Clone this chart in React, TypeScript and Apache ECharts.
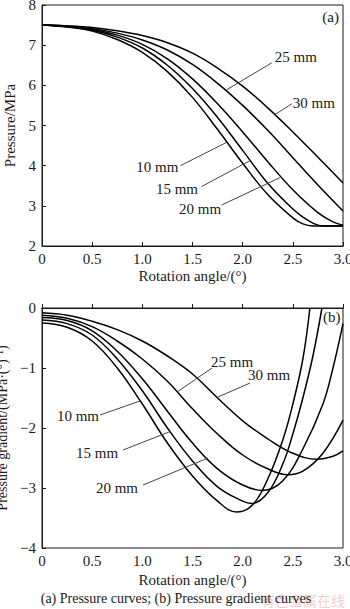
import React, { useEffect, useRef } from "react";
import * as echarts from "echarts";

const THICKNESS = ["10 mm", "15 mm", "20 mm", "25 mm", "30 mm"];

// (a) Pressure (MPa) vs rotation angle (°)
const pressure10 = [[0, 7.5], [0.25, 7.45], [0.5, 7.35], [0.75, 7.14], [1, 6.82], [1.25, 6.34], [1.5, 5.7], [1.75, 4.9], [2, 4.06], [2.25, 3.28], [2.5, 2.7], [2.6, 2.55], [2.7, 2.5], [2.8, 2.5], [3, 2.5]];
const pressure15 = [[0, 7.5], [0.25, 7.46], [0.5, 7.37], [0.75, 7.2], [1, 6.93], [1.25, 6.5], [1.5, 5.92], [1.75, 5.2], [2, 4.38], [2.25, 3.56], [2.5, 2.92], [2.6, 2.72], [2.7, 2.57], [2.8, 2.5], [3, 2.5]];
const pressure20 = [[0, 7.5], [0.25, 7.47], [0.5, 7.39], [0.75, 7.25], [1, 7.02], [1.25, 6.66], [1.5, 6.16], [1.75, 5.54], [2, 4.84], [2.25, 4.1], [2.5, 3.4], [2.75, 2.83], [2.9, 2.6], [3, 2.52]];
const pressure25 = [[0, 7.5], [0.25, 7.47], [0.5, 7.41], [0.75, 7.3], [1, 7.13], [1.25, 6.88], [1.5, 6.52], [1.75, 6.05], [2, 5.5], [2.25, 4.88], [2.5, 4.2], [2.75, 3.52], [3, 2.87]];
const pressure30 = [[0, 7.5], [0.25, 7.48], [0.5, 7.44], [0.75, 7.36], [1, 7.24], [1.25, 7.06], [1.5, 6.8], [1.75, 6.43], [2, 5.98], [2.25, 5.44], [2.5, 4.84], [2.75, 4.21], [3, 3.57]];

// (b) Pressure gradient (MPa/°) vs rotation angle (°)
const grad10 = [[0, -0.25], [0.25, -0.32], [0.5, -0.55], [0.75, -1.0], [1, -1.6], [1.25, -2.25], [1.5, -2.8], [1.75, -3.22], [1.94, -3.4], [2.1, -3.28], [2.25, -2.85], [2.4, -2.2], [2.5, -1.6], [2.6, -0.85], [2.67, 0]];
const grad15 = [[0, -0.2], [0.25, -0.26], [0.5, -0.45], [0.75, -0.85], [1, -1.38], [1.25, -2.0], [1.5, -2.55], [1.75, -2.98], [2, -3.22], [2.09, -3.26], [2.25, -3.08], [2.4, -2.6], [2.5, -2.1], [2.6, -1.5], [2.7, -0.8], [2.79, 0]];
const grad20 = [[0, -0.16], [0.25, -0.21], [0.5, -0.38], [0.75, -0.72], [1, -1.18], [1.25, -1.72], [1.5, -2.25], [1.75, -2.68], [2, -2.95], [2.2, -3.04], [2.4, -2.88], [2.6, -2.35], [2.8, -1.6], [2.9, -1.0], [3, -0.26]];
const grad25 = [[0, -0.12], [0.25, -0.17], [0.5, -0.31], [0.75, -0.55], [1, -0.85], [1.25, -1.22], [1.5, -1.68], [1.75, -2.1], [2, -2.45], [2.25, -2.68], [2.45, -2.78], [2.6, -2.72], [2.8, -2.42], [3, -1.87]];
const grad30 = [[0, -0.08], [0.25, -0.12], [0.5, -0.22], [0.75, -0.36], [1, -0.55], [1.25, -0.8], [1.5, -1.1], [1.75, -1.5], [2, -1.88], [2.25, -2.18], [2.5, -2.42], [2.74, -2.52], [2.9, -2.47], [3, -2.38]];

const PRESSURE = [pressure10, pressure15, pressure20, pressure25, pressure30];
const GRADIENT = [grad10, grad15, grad20, grad25, grad30];

// curve annotations, data coordinates: text anchor, leader start, leader end
const LABELS_A = [
  { name: "25 mm", at: [2.32, 6.71], align: "left", from: [2.29, 6.56], to: [1.84, 5.89] },
  { name: "30 mm", at: [2.5, 5.56], align: "left", from: [2.49, 5.54], to: [2.32, 5.27] },
  { name: "10 mm", at: [1.36, 3.97], align: "right", from: [1.38, 4.0], to: [1.84, 4.58] },
  { name: "15 mm", at: [1.555, 3.42], align: "right", from: [1.59, 3.48], to: [2.07, 4.12] },
  { name: "20 mm", at: [1.785, 2.93], align: "right", from: [1.79, 3.02], to: [2.37, 3.7] },
];
const LABELS_B = [
  { name: "25 mm", at: [1.685, -0.9], align: "left", from: [1.695, -1.0], to: [1.346, -1.4] },
  { name: "30 mm", at: [2.054, -1.117], align: "left", from: [2.074, -1.25], to: [1.745, -1.49] },
  { name: "10 mm", at: [0.568, -1.8], align: "right", from: [0.578, -1.783], to: [0.977, -1.55] },
  { name: "15 mm", at: [0.758, -2.417], align: "right", from: [0.808, -2.367], to: [1.276, -2.06] },
  { name: "20 mm", at: [0.957, -3.0], align: "right", from: [1.007, -2.95], to: [1.655, -2.5] },
];

const SERIF = "'Liberation Serif', 'Times New Roman', serif";
const INK = "#1a1a1a";

function xAxisFor(gridIndex: number, nameGap: number) {
  return {
    type: "value",
    gridIndex,
    min: 0,
    max: 3,
    interval: 0.5,
    axisLine: { show: true, lineStyle: { color: INK, width: 1 } },
    axisTick: { show: true, inside: true, length: 4, lineStyle: { color: INK } },
    splitLine: { show: false },
    axisLabel: {
      color: INK,
      fontFamily: SERIF,
      fontSize: 15,
      margin: 5,
      formatter: (v: number) => (v === 0 ? "0" : v.toFixed(1)),
    },
    name: "Rotation angle/(°)",
    nameLocation: "middle",
    nameGap,
    nameTextStyle: { color: INK, fontFamily: SERIF, fontSize: 15 },
  };
}

export default function App() {
  const ref = useRef<HTMLDivElement>(null);
  useEffect(() => {
    document.body.style.margin = "0";
    if (!ref.current) return;
    const chart = echarts.init(ref.current, undefined, { renderer: "svg" });
    const series: any[] = [];
    PRESSURE.forEach((d, i) =>
      series.push({
        type: "line",
        name: "p " + THICKNESS[i],
        xAxisIndex: 0,
        yAxisIndex: 0,
        data: d,
        smooth: 0.4,
        showSymbol: false,
        lineStyle: { color: "#000", width: 1.5 },
      })
    );
    GRADIENT.forEach((d, i) =>
      series.push({
        type: "line",
        name: "g " + THICKNESS[i],
        xAxisIndex: 1,
        yAxisIndex: 1,
        data: d,
        smooth: 0.4,
        showSymbol: false,
        lineStyle: { color: "#000", width: 1.5 },
      })
    );
    const gridBase = {
      left: 42,
      width: 301,
      show: true,
      borderColor: INK,
      borderWidth: 1,
      backgroundColor: "transparent",
      containLabel: false,
      outerBoundsMode: "none",
    };
    chart.setOption({
      animation: false,
      backgroundColor: "#fff",
      grid: [
        { ...gridBase, top: 5, height: 241 },
        { ...gridBase, top: 308, height: 240 },
      ],
      xAxis: [xAxisFor(0, 22), xAxisFor(1, 24)],
      yAxis: [
        {
          type: "value",
          gridIndex: 0,
          min: 2,
          max: 8,
          interval: 1,
          axisLine: { show: true, lineStyle: { color: INK, width: 1 } },
          axisTick: { show: true, inside: true, length: 4, lineStyle: { color: INK } },
          splitLine: { show: false },
          axisLabel: { color: INK, fontFamily: SERIF, fontSize: 15, margin: 6 },
          name: "Pressure/MPa",
          nameLocation: "middle",
          nameGap: 24,
          nameTextStyle: { color: INK, fontFamily: SERIF, fontSize: 15 },
        },
        {
          type: "value",
          gridIndex: 1,
          min: -4,
          max: 0,
          interval: 1,
          axisLine: { show: true, lineStyle: { color: INK, width: 1 } },
          axisTick: { show: true, inside: true, length: 4, lineStyle: { color: INK } },
          splitLine: { show: false },
          axisLabel: {
            color: INK,
            fontFamily: SERIF,
            fontSize: 15,
            margin: 6,
            formatter: (v: number) => (v < 0 ? "\u2212" + Math.abs(v) : String(v)),
          },
          name: "Pressure gradient/(MPa·(°)\u207B\u00B9)",
          nameLocation: "middle",
          nameGap: 23,
          nameTextStyle: { color: INK, fontFamily: SERIF, fontSize: 14 },
        },
      ],
      series,
    });

    const graphics: any[] = [];
    const addLabels = (labels: any[], gridIndex: number) => {
      labels.forEach((l) => {
        const t = chart.convertToPixel({ gridIndex } as any, l.at) as number[];
        const a = chart.convertToPixel({ gridIndex } as any, l.from) as number[];
        const b = chart.convertToPixel({ gridIndex } as any, l.to) as number[];
        graphics.push({
          type: "line",
          shape: { x1: a[0], y1: a[1], x2: b[0], y2: b[1] },
          style: { stroke: "#444", lineWidth: 1 },
          z: 50,
        });
        graphics.push({
          type: "text",
          x: t[0],
          y: t[1],
          style: {
            text: l.name,
            fill: INK,
            font: `15px ${SERIF}`,
            textAlign: l.align,
            textVerticalAlign: "middle",
          },
          z: 50,
        });
      });
    };
    addLabels(LABELS_A, 0);
    addLabels(LABELS_B, 1);
    const pa = chart.convertToPixel({ gridIndex: 0 } as any, [2.96, 7.7]) as number[];
    const pb = chart.convertToPixel({ gridIndex: 1 } as any, [2.975, -0.15]) as number[];
    graphics.push({
      type: "text", x: pa[0], y: pa[1],
      style: { text: "(a)", fill: INK, font: `15px ${SERIF}`, textAlign: "right", textVerticalAlign: "middle" },
      z: 50,
    });
    graphics.push({
      type: "text", x: pb[0], y: pb[1],
      style: { text: "(b)", fill: INK, font: `15px ${SERIF}`, textAlign: "right", textVerticalAlign: "middle" },
      z: 50,
    });
    graphics.push({
      type: "text", x: 345, y: 600,
      style: { text: "有色金属在线", fill: "rgba(235,150,150,0.5)", font: "14px 'Noto Sans CJK SC', sans-serif", textAlign: "right", textVerticalAlign: "middle" },
      z: 40,
    });
    graphics.push({
      type: "text", x: 176, y: 598,
      style: { text: "(a) Pressure curves; (b) Pressure gradient curves", fill: INK, font: `14px ${SERIF}`, textAlign: "center", textVerticalAlign: "middle" },
      z: 50,
    });
    chart.setOption({ graphic: graphics });
    return () => chart.dispose();
  }, []);
  return <div ref={ref} style={{ width: 350, height: 609 }} />;
}
